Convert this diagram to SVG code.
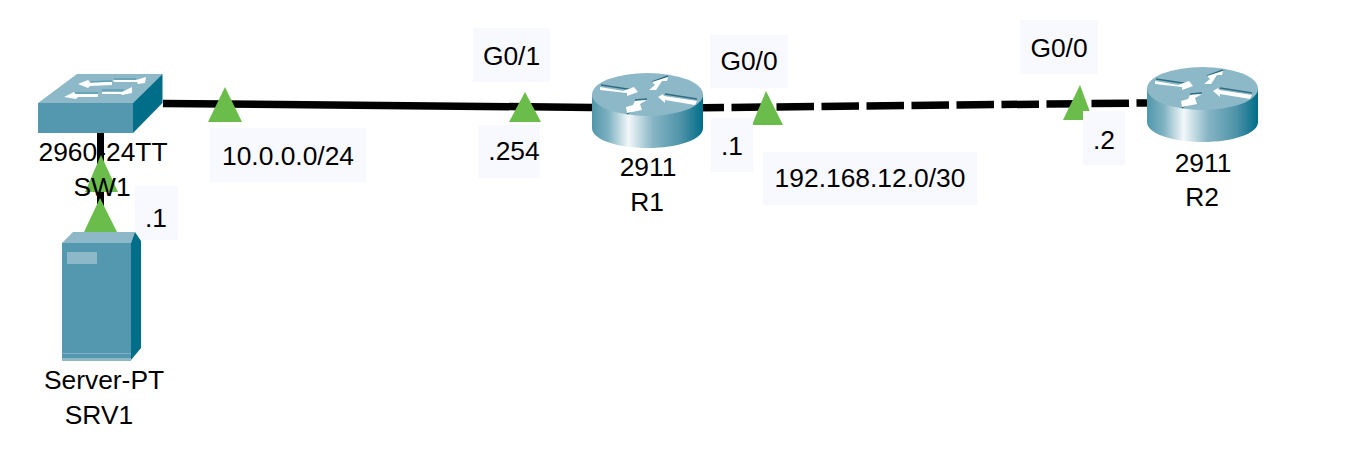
<svg xmlns="http://www.w3.org/2000/svg" width="1355" height="449" viewBox="0 0 1355 449">
<style>
text{font-family:"Liberation Sans",Arial,sans-serif;font-size:26.4px;fill:#000;text-anchor:middle}
.bg{fill:#f8f8ff}
.tri{fill:#6bbd4b}
.link{stroke:#000;stroke-width:7.500;fill:none}
.top{fill:#8db8c8}
.front{fill:#5398ae}
.side{fill:#006e89}
.arrow{fill:#fff}
.shade{stroke:#2f6d82;stroke-width:1.500;fill:none}
.bar{stroke:#5f9fb3;stroke-width:1.500;fill:none}
</style>
<defs>
<linearGradient id="rb" x1="0" x2="1" y1="0" y2="0">
<stop offset="0" stop-color="#4f97aa"/><stop offset=".15" stop-color="#7fb2c2"/><stop offset=".33" stop-color="#f2f8f9"/><stop offset=".55" stop-color="#86b5c4"/><stop offset=".8" stop-color="#4f93a9"/><stop offset="1" stop-color="#006e89"/>
</linearGradient>
<g id="router">
<path d="M0 21V55C0 66.600 24.800 75 55.500 75S111 66.600 111 55V21Z" fill="url(#rb)"/>
<ellipse cx="55.500" cy="21.500" rx="55.500" ry="21.500" class="top"/>
<path class="shade" d="M9 12L42 17M60 9L76 3M73 21L105 26M42 36L35 41M43 27L55 26"/>
<path class="arrow" d="M8 14L31 18L42 14L46 19L35 23L35 20L8 17Z"/>
<path class="arrow" d="M57 17L63 12L60 9L76 4L75 8L70 8L64 17Z"/>
<path class="arrow" d="M66 24L71 21L72 23L105 28L103 32L73 27L73 30Z"/>
<path class="arrow" d="M34 34L41 32L43 28L55 27L48 31L50 37L35 40Z"/>
</g>
</defs>
<g id="connectors">
<line class="link" x1="163" y1="103.400" x2="592" y2="107.400"/>
<line class="link" x1="100.500" y1="133" x2="100.500" y2="232" style="stroke-width:7"/>
<line class="link" x1="703" y1="107.700" x2="1147" y2="103" stroke-dasharray="37.500 7.500" stroke-dashoffset="16.500"/>
</g>
<g id="markers">
<polygon class="tri" points="225,87 242,122 208,122"/>
<polygon class="tri" points="525,92 541,122 509,122"/>
<polygon class="tri" points="766,91 783,125 752,125"/>
<polygon class="tri" points="1080,85 1093,120 1063,120"/>
<polygon class="tri" points="101,155 118,192 85,192"/>
<polygon class="tri" points="100,198 117,232 84,232"/>
</g>
<g id="label-sw1-ip"><rect class="bg" x="135" y="186" width="43" height="54"/><text x="156" y="227">.1</text></g>
<g id="label-net1"><rect class="bg" x="210" y="128" width="156" height="54"/><text x="288" y="165">10.0.0.0/24</text></g>
<g id="label-g01"><rect class="bg" x="473" y="28" width="77" height="54"/><text x="511.500" y="65">G0/1</text></g>
<g id="label-254"><rect class="bg" x="478" y="125" width="62" height="53"/><text x="514" y="160">.254</text></g>
<g id="label-r1-g00"><rect class="bg" x="710" y="35" width="78" height="53"/><text x="749" y="70">G0/0</text></g>
<g id="label-r1-ip"><rect class="bg" x="711" y="118" width="42" height="54"/><text x="732" y="155">.1</text></g>
<g id="label-net2"><rect class="bg" x="763" y="152" width="214" height="53"/><text x="870" y="187">192.168.12.0/30</text></g>
<g id="label-r2-g00"><rect class="bg" x="1020" y="20" width="78" height="54"/><text x="1059" y="57">G0/0</text></g>
<g id="label-r2-ip"><rect class="bg" x="1083" y="111" width="42" height="54"/><text x="1104" y="149">.2</text></g>
<g id="SW1">
<polygon class="top" points="38,103 77,74 162.500,74 133,103"/>
<polygon class="front" points="38,103 133,103 133,133 38,133"/>
<polygon class="side" points="133,103 162.500,74 162.500,103 133,133"/>
<path class="arrow" d="M78 84L88 80L90 82L112 82L112 85L90 86L88 88ZM113 80L136 80L146 77L145 83L138 84L137 82L114 82ZM64 97L74 92L76 94L98 94V97L78 97L76 99ZM102 92L122 92L132 87L132 93L122 95L121 94L102 94Z"/>
<path class="bar" d="M90 82L112 81M75 93L98 93M102 90L124 90M114 79L136 79"/>
<text x="103" y="161">2960-24TT</text>
<text x="102" y="196">SW1</text>
</g>
<g id="SRV1">
<polygon class="top" points="62,243 73,232 135,232 131,243"/>
<polygon class="side" points="131,243 135,232 141,241 141,348 131,360"/>
<rect class="front" x="62" y="243" width="69" height="117"/>
<rect x="62" y="353" width="69" height="1" fill="#7fb2c2"/>
<rect x="62" y="358" width="69" height="3" fill="#8db8c8"/>
<rect x="67" y="252" width="30" height="12" fill="#8db8c8"/>
<text x="104" y="389">Server-PT</text>
<text x="99" y="424">SRV1</text>
</g>
<g id="R1">
<use href="#router" x="592" y="73"/>
<text x="648" y="176">2911</text>
<text x="647" y="211">R1</text>
</g>
<g id="R2">
<use href="#router" x="1147" y="67"/>
<text x="1203" y="172">2911</text>
<text x="1202" y="206">R2</text>
</g>
</svg>
